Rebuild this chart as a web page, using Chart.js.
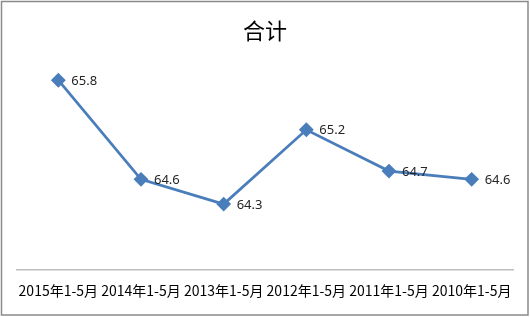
<!DOCTYPE html>
<html>
<head>
<meta charset="utf-8">
<script src="https://cdn.jsdelivr.net/npm/chart.js@4"></script>
<style>
html,body{margin:0;padding:0;background:#fff;}
#wrap{position:relative;width:530px;height:317px;}
</style>
</head>
<body>
<div id="wrap"><canvas id="c" width="530" height="317"></canvas></div>
<script>
const categories = ["2015年1-5月","2014年1-5月","2013年1-5月","2012年1-5月","2011年1-5月","2010年1-5月"];
const values = [65.8, 64.6, 64.3, 65.2, 64.7, 64.6];
const titleText = "合计";

const borderPlugin = {
  id: 'outerBorder',
  afterDraw(chart) {
    const ctx = chart.ctx;
    ctx.save();
    ctx.strokeStyle = '#8a8a8a';
    ctx.lineWidth = 1.5;
    ctx.strokeRect(1.5, 1.5, chart.width - 3.5, chart.height - 3.5);
    ctx.restore();
  }
};

const labelPlugin = {
  id: 'dataLabels',
  afterDatasetsDraw(chart) {
    const ctx = chart.ctx;
    const meta = chart.getDatasetMeta(0);
    ctx.save();
    ctx.font = '13px "Noto Sans", "Noto Sans CJK SC", sans-serif';
    ctx.fillStyle = '#262626';
    ctx.textAlign = 'left';
    ctx.textBaseline = 'middle';
    meta.data.forEach((pt, i) => {
      ctx.fillText(values[i].toFixed(1), pt.x + 13, pt.y + 1);
    });
    ctx.restore();
  }
};

new Chart(document.getElementById('c'), {
  type: 'line',
  data: {
    labels: categories,
    datasets: [{
      data: values,
      borderColor: '#4a7ebb',
      backgroundColor: '#4a7ebb',
      borderWidth: 2.75,
      pointStyle: 'rectRot',
      pointRadius: 5.5,
      pointHoverRadius: 5.5,
      tension: 0,
      fill: false
    }]
  },
  options: {
    responsive: false,
    animation: false,
    devicePixelRatio: 1,
    layout: { padding: { left: 17, right: 17, top: 0, bottom: 6 } },
    plugins: {
      legend: { display: false },
      tooltip: { enabled: false },
      title: {
        display: true,
        text: titleText,
        color: '#000',
        font: { family: '"Noto Sans CJK SC", sans-serif', size: 22, weight: 'normal' },
        padding: { top: 17, bottom: 20.3 }
      }
    },
    scales: {
      x: {
        offset: true,
        grid: { display: false, drawTicks: false },
        border: { display: true, color: '#bfbfbf', width: 1.5 },
        ticks: {
          color: '#000',
          font: { family: '"Noto Sans CJK SC", sans-serif', size: 14 },
          padding: 12,
          maxRotation: 0,
          autoSkip: false
        }
      },
      y: {
        display: false,
        min: 63.5,
        max: 66
      }
    }
  },
  plugins: [borderPlugin, labelPlugin]
});
</script>
</body>
</html>
